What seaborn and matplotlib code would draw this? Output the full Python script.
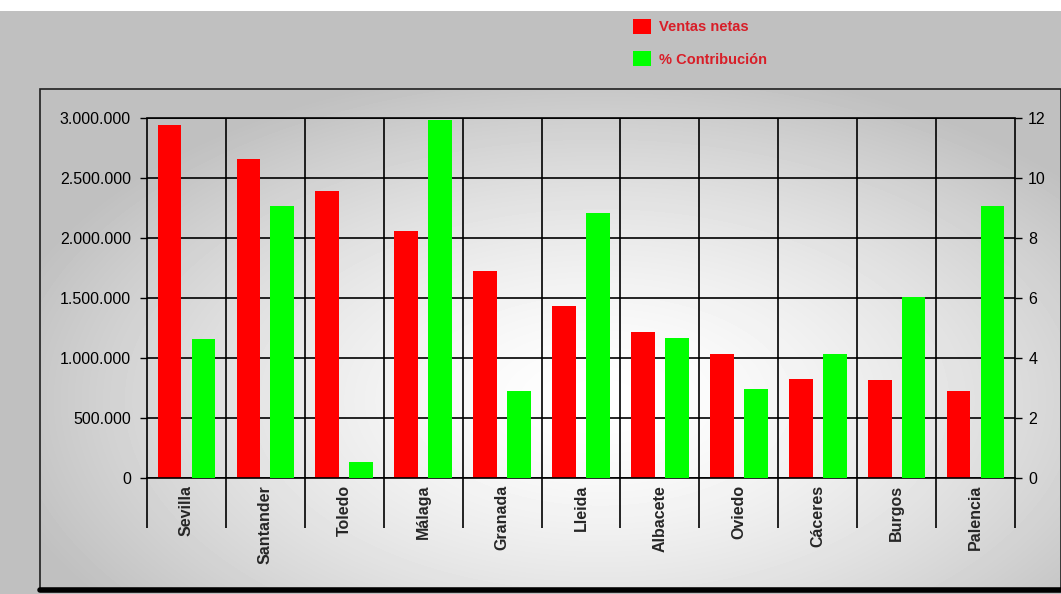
import numpy as np
import pandas as pd
import seaborn as sns
import matplotlib.pyplot as plt
from matplotlib.patches import Rectangle, Patch
from matplotlib.lines import Line2D
from matplotlib.ticker import FuncFormatter

# ---- data ----
ciudades = ["Sevilla", "Santander", "Toledo", "Málaga", "Granada", "Lleida",
            "Albacete", "Oviedo", "Cáceres", "Burgos", "Palencia"]
ventas_netas = [2944000, 2658000, 2388000, 2061000, 1727000, 1430000,
                1213000, 1033000, 825000, 813000, 722000]
contribucion = [4.63, 9.08, 0.52, 11.92, 2.89, 8.85, 4.67, 2.97, 4.13, 6.03, 9.08]
series = ["Ventas netas", "% Contribución"]
colores = ["#ff0000", "#00ff00"]
ticks_izq = [0, 500000, 1000000, 1500000, 2000000, 2500000, 3000000]
ticks_der = [0, 2, 4, 6, 8, 10, 12]

df_v = pd.DataFrame({"ciudad": ciudades, "valor": ventas_netas, "serie": series[0]})
df_c = pd.DataFrame({"ciudad": ciudades, "valor": contribucion, "serie": series[1]})

sns.set_theme(style="white")
plt.rcParams["font.family"] = ["Liberation Sans", "DejaVu Sans"]

W, H = 1061, 594
fig = plt.figure(figsize=(W / 100, H / 100), dpi=100, facecolor="#c0c0c0")

# white strip at top
fig.add_artist(Rectangle((0, 1 - 11 / H), 1, 11 / H, transform=fig.transFigure,
                         facecolor="white", edgecolor="none", zorder=0))

# panel with radial gradient
px0, px1, py0, py1 = 40, 1061, 89, 590
bg = fig.add_axes([px0 / W, 1 - py1 / H, (px1 - px0) / W, (py1 - py0) / H], zorder=-5)
xx, yy = np.meshgrid(np.arange(px0, px1), np.arange(py0, py1))
d = np.sqrt(((xx - 600) / 620.0) ** 2 + ((yy - 400) / 340.0) ** 2)
img = 1.0 - (1.0 - 0.75) * np.clip(d, 0, 1) ** 1.5
bg.imshow(img, cmap="gray", vmin=0, vmax=1, aspect="auto",
          extent=[px0, px1, py1, py0], interpolation="bilinear")
bg.set_axis_off()
fig.add_artist(Rectangle((px0 / W, 1 - py1 / H), (px1 - px0) / W, (py1 - py0) / H,
                         transform=fig.transFigure, facecolor="none",
                         edgecolor="#202020", linewidth=1.2, zorder=1))
fig.add_artist(Line2D([px0 / W, 1], [1 - 590 / H, 1 - 590 / H], transform=fig.transFigure,
                      color="black", linewidth=4, zorder=2))

# main axes
ax = fig.add_axes([147 / W, 1 - 478 / H, (1015 - 147) / W, (478 - 118) / H])
ax.patch.set_alpha(0)
sns.barplot(data=df_v, x="ciudad", y="valor", hue="serie", hue_order=series,
            palette=colores, saturation=1, width=0.86, gap=0.3, errorbar=None,
            dodge=True, linewidth=0, legend=False, ax=ax)
ax.set_ylim(0, 3000000)
ax.set_yticks(ticks_izq)
ax.yaxis.set_major_formatter(FuncFormatter(lambda v, p: f"{int(v):,}".replace(",", ".")))
ax.set_axisbelow(True)
ax.yaxis.grid(True, color="black", linewidth=1.2)
ax.xaxis.grid(False)
ax.set_xlim(-0.5, len(ciudades) - 0.5)
ax.vlines(np.arange(len(ciudades) + 1) - 0.5, -0.139, 1, transform=ax.get_xaxis_transform(),
          color="black", linewidth=1.2, clip_on=False, zorder=0.5)
for s in ["left", "right"]:
    ax.spines[s].set_visible(False)
for s in ["top", "bottom"]:
    ax.spines[s].set_color("black")
    ax.spines[s].set_linewidth(1.2)
ax.set_xlabel("")
ax.set_ylabel("")
ax.tick_params(axis="y", left=True, length=5, width=1, color="black", pad=6.5,
               labelsize=11.5, labelcolor="black")
ax.tick_params(axis="x", length=0, pad=5)
for lab in ax.get_xticklabels():
    lab.set_rotation(90)
    lab.set_fontweight("bold")
    lab.set_fontsize(11.5)
    lab.set_va("top")

ax2 = ax.twinx()
ax2.patch.set_alpha(0)
sns.barplot(data=df_c, x="ciudad", y="valor", hue="serie", hue_order=series,
            palette=colores, saturation=1, width=0.86, gap=0.3, errorbar=None,
            dodge=True, linewidth=0, legend=False, ax=ax2)
ax2.set_ylim(0, 12)
ax2.set_xlim(-0.5, len(ciudades) - 0.5)
ax2.set_yticks(ticks_der)
ax2.grid(False)
ax2.set_ylabel("")
ax2.set_xlabel("")
for s in ax2.spines.values():
    s.set_visible(False)
ax2.tick_params(axis="y", right=True, length=5, width=1, color="black", pad=4.5,
                labelsize=11.5, labelcolor="black")

# legend
handles = [Patch(facecolor=c, edgecolor="none") for c in colores]
leg = fig.legend(handles, series, loc="upper left", bbox_to_anchor=(633 / W, 1 - 19 / H),
                 frameon=False, handlelength=1.2, handleheight=1.2,
                 handletextpad=0.55, labelspacing=1.15, borderpad=0, borderaxespad=0,
                 labelcolor="#d81e28", prop={"weight": "bold", "size": 10.5})

fig.savefig("out.png", dpi=100, facecolor=fig.get_facecolor())
